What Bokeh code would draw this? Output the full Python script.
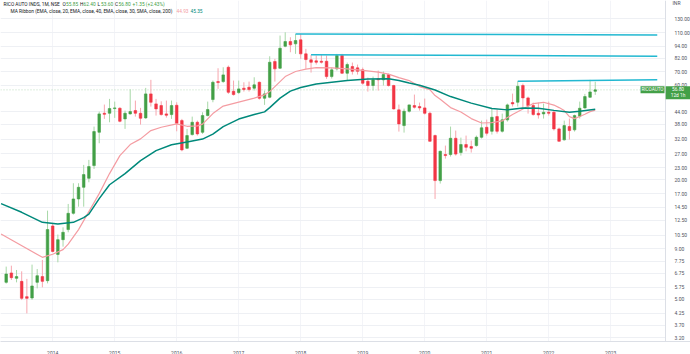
import pandas as pd
from bokeh.plotting import figure
from bokeh.models import (FixedTicker, PrintfTickFormatter, Label, Span, ColumnDataSource,
                          Range1d, BoxAnnotation)
from bokeh.embed import file_html
from bokeh.resources import INLINE

# ---------------- data ----------------
months = [p.strftime("%Y-%m") for p in pd.period_range("2013-04", "2022-10", freq="M")]

opens = [6.08, 6.78, 6.37, 6.15, 5.15, 5.07, 6.08, 6.50, 6.20, 11.70,
         8.41, 9.98, 11.22, 13.55, 16.01, 18.33, 20.35, 23.58, 34.71, 43.29,
         43.29, 45.71, 45.88, 40.56, 42.98, 44.66, 43.29, 41.03, 54.22, 48.27,
         47.33, 42.98, 42.63, 47.50, 39.76, 28.84, 33.80, 38.99, 34.71, 42.14,
         50.75, 62.55, 62.55, 73.85, 55.87, 55.04, 57.88, 58.55, 57.88, 62.04,
         51.52, 52.12, 78.90, 73.01, 94.24, 99.52, 96.91, 101.53, 86.28, 80.48,
         79.55, 79.19, 79.19, 66.28, 72.49, 84.60, 68.89, 74.44, 73.33, 71.66,
         62.76, 59.73, 64.55, 63.82, 67.84, 59.73, 45.03, 37.52, 44.31, 47.33,
         46.78, 46.08, 43.29, 33.41, 19.81, 26.80, 26.80, 32.38, 27.43, 30.10,
         29.40, 29.75, 32.76, 36.79, 35.12, 41.65, 35.12, 40.10, 49.01, 49.18,
         59.73, 51.75, 47.33, 43.29, 42.98, 43.80, 43.80, 36.11, 31.79, 37.09,
         35.71, 41.80, 46.08, 52.12, 55.85]
highs = [7.30, 7.38, 7.02, 6.91, 6.33, 7.47, 7.10, 7.89, 13.98, 12.07,
         10.59, 11.52, 15.11, 19.21, 19.21, 23.77, 25.20, 37.09, 44.14, 47.89,
         51.16, 49.58, 46.41, 44.66, 57.19, 50.16, 46.08, 58.13, 63.82, 51.16,
         49.74, 50.16, 50.16, 49.18, 40.56, 36.11, 41.65, 39.76, 43.80, 49.58,
         63.28, 73.01, 73.85, 75.32, 63.28, 63.28, 62.04, 62.55, 65.75, 62.55,
         56.34, 83.90, 81.42, 106.71, 110.88, 104.63, 108.59, 108.84, 91.44, 85.30,
         84.60, 85.30, 84.60, 73.59, 86.28, 86.28, 77.99, 77.99, 76.20, 73.59,
         65.52, 66.28, 71.07, 70.31, 68.64, 60.28, 47.89, 45.71, 47.89, 53.78,
         49.01, 51.34, 44.14, 33.80, 28.07, 29.75, 37.09, 35.41, 32.64, 33.41,
         31.53, 33.41, 39.76, 40.23, 45.71, 45.18, 43.12, 48.44, 54.38, 62.76,
         61.12, 52.54, 49.01, 49.01, 48.44, 49.58, 44.66, 36.66, 39.76, 40.70,
         42.63, 49.58, 54.22, 63.82, 62.40]
lows = [5.99, 6.25, 6.08, 4.95, 4.24, 4.96, 5.67, 5.74, 6.01, 8.61,
        7.67, 9.20, 10.87, 13.35, 14.64, 14.64, 19.43, 22.69, 30.56, 40.56,
        38.99, 41.03, 38.99, 36.11, 42.63, 41.65, 37.96, 40.56, 46.78, 42.14,
        42.14, 41.17, 40.56, 35.12, 27.84, 28.63, 33.41, 33.41, 34.08, 41.80,
        49.18, 57.46, 61.61, 54.22, 53.16, 54.22, 55.68, 55.68, 56.34, 50.75,
        47.72, 51.52, 62.55, 72.49, 93.14, 87.90, 86.28, 81.42, 72.49, 69.44,
        76.20, 77.09, 64.55, 64.77, 71.07, 68.43, 63.28, 67.84, 67.84, 60.28,
        55.68, 56.34, 56.34, 59.73, 59.04, 45.18, 35.00, 34.59, 43.63, 45.71,
        44.66, 42.63, 31.16, 16.01, 19.14, 25.58, 26.18, 26.49, 26.49, 27.84,
        27.43, 29.40, 32.27, 33.41, 33.80, 34.20, 34.59, 39.30, 46.78, 46.78,
        46.24, 43.12, 42.14, 40.70, 40.70, 42.14, 35.41, 31.16, 31.53, 31.90,
        35.00, 40.70, 45.55, 51.75, 53.60]
closes = [6.70, 6.42, 6.50, 5.05, 5.05, 5.83, 6.57, 6.15, 11.22, 8.71,
          9.98, 10.87, 13.55, 16.01, 18.33, 21.24, 23.31, 35.00, 42.98, 42.78,
          45.71, 46.08, 39.44, 43.29, 44.14, 43.29, 40.85, 54.22, 49.18, 45.55,
          42.63, 42.30, 47.33, 38.54, 28.30, 33.41, 38.99, 34.08, 42.14, 45.18,
          62.04, 61.83, 67.60, 55.23, 53.78, 57.46, 57.00, 57.00, 60.20, 51.52,
          54.22, 78.26, 72.49, 92.09, 99.52, 95.78, 100.69, 86.28, 80.76, 78.26,
          78.26, 78.26, 66.28, 71.66, 84.60, 68.89, 76.20, 70.49, 70.49, 61.34,
          59.73, 63.82, 63.82, 67.84, 59.73, 45.55, 38.27, 44.31, 47.72, 46.41,
          46.08, 43.29, 31.27, 19.81, 27.84, 26.49, 32.38, 26.96, 30.10, 29.17,
          28.84, 32.76, 36.56, 34.32, 41.32, 35.12, 40.10, 47.72, 48.27, 59.23,
          51.75, 47.33, 42.63, 42.46, 43.80, 43.29, 36.11, 31.27, 37.52, 35.41,
          42.14, 45.88, 52.54, 55.45, 56.80]

# MA ribbon (EMA 20 pink, EMA 40 teal) read at sample months
fast_months = ["2013-03", "2013-11", "2014-01", "2014-03", "2014-04", "2014-06", "2014-08",
               "2014-10", "2014-12", "2015-02", "2015-04", "2015-06", "2015-08", "2015-10",
               "2016-01", "2016-03", "2016-05", "2016-06", "2016-08", "2016-10", "2017-01",
               "2017-04", "2017-06", "2017-07", "2017-08", "2017-09", "2017-10", "2017-12",
               "2018-02", "2018-04", "2018-07", "2018-10", "2019-01", "2019-04", "2019-06",
               "2019-08", "2019-10", "2019-12", "2020-02", "2020-03", "2020-04", "2020-06",
               "2020-08", "2020-10", "2020-12", "2021-02", "2021-04", "2021-05", "2021-06",
               "2021-08", "2021-10", "2021-12", "2022-02", "2022-03", "2022-04", "2022-05",
               "2022-06", "2022-07", "2022-08", "2022-09", "2022-10"]
fast_vals = [10.65, 8.13, 8.43, 8.89, 9.47, 11.22, 13.82,
             17.03, 21.49, 26.49, 30.10, 32.16, 35.41, 36.79,
             38.27, 37.22, 37.37, 38.18, 43.13, 47.06, 49.30,
             51.64, 53.60, 55.68, 59.02, 62.55, 66.28, 70.31,
             72.32, 73.59, 73.33, 72.49, 71.24, 69.86, 68.24,
             65.52, 63.28, 59.02, 57.00, 53.16, 50.90, 46.24,
             43.95, 40.70, 38.67, 38.86, 39.60, 41.17, 42.63,
             45.46, 48.44, 49.18, 47.61, 46.24, 44.66, 41.65,
             40.70, 41.73, 42.80, 44.14, 44.93]

slow_months = ["2013-03", "2013-07", "2013-11", "2014-02", "2014-05", "2014-07", "2014-08",
               "2014-10", "2014-12", "2015-03", "2015-06", "2015-09", "2015-12", "2016-03",
               "2016-06", "2016-08", "2016-10", "2017-01", "2017-04", "2017-06", "2017-07",
               "2017-09", "2017-11", "2018-01", "2018-04", "2018-07", "2018-10", "2019-02",
               "2019-06", "2019-08", "2019-10", "2019-12", "2020-03", "2020-06", "2020-10",
               "2021-02", "2021-05", "2021-08", "2021-11", "2022-02", "2022-05", "2022-07",
               "2022-10"]
slow_vals = [15.16, 13.71, 12.20, 11.98, 12.20, 12.89, 13.42,
             16.07, 18.88, 21.49, 24.99, 28.07, 30.05, 31.00,
             32.08, 34.00, 37.09, 40.47, 42.63, 44.00, 46.24,
             51.64, 56.00, 58.33, 60.78, 62.04, 63.28, 64.42,
             64.55, 63.28, 61.45, 59.94, 56.68, 52.54, 48.70,
             45.71, 45.03, 45.98, 45.87, 44.77, 43.80, 44.26,
             45.35]

# drawn horizontal trend lines
trend_start = ["2017-12", "2018-03", "2021-07"]
trend_end = ["2023-10", "2023-10", "2023-10"]
trend_start_val = [108.6, 85.3, 62.8]
trend_end_val = [107.4, 84.0, 63.8]

year_labels = [str(y) for y in range(2014, 2024)]
price_ticks = [130, 110, 94, 82, 70, 60, 44, 38, 32, 27, 23, 20, 17, 14.5, 12.5,
               10.5, 9, 7.75, 6.75, 5.75, 5, 4.25, 3.7, 3.2]
last_price = 56.80

# ---------------- layout / style ----------------
W, FH = 690, 341
AXIS_PX = 665      # px where the price scale starts
STEP = 5.167       # px per month
X0 = 5.7           # px of first candle
Y_TOP, Y_BOT = 160.3, 3.06

GREEN = "#43a047"
RED = "#f23645"
GREEN_W = "#a8d8a8"
RED_W = "#f7a6ae"
PINK = "#f49ca2"
TEAL = "#00897b"
CYAN = "#22b8d1"
FONT = "Roboto"


def mi(s):
    y, m = map(int, s.split("-"))
    return (y - 2013) * 12 + (m - 4)


x_start = -X0 / STEP
x_axis_loc = x_start + AXIS_PX / STEP
p = figure(frame_width=W, frame_height=FH, y_axis_type="log", y_axis_location="right",
           x_range=Range1d(x_start, x_start + W / STEP), y_range=Range1d(Y_BOT, Y_TOP),
           min_border=0, min_border_bottom=13,
           toolbar_location=None, output_backend="svg")
p.outline_line_color = None
p.background_fill_color = "white"

# grid
p.ygrid.ticker = FixedTicker(ticks=price_ticks)
p.ygrid.grid_line_color = "#eef0f4"
year_ticks = [mi(f"{y}-01") for y in range(2014, 2024)]
p.xgrid.ticker = FixedTicker(ticks=year_ticks)
p.xgrid.grid_line_color = "#f3f4f8"

# last price line (under the price-scale cover)
p.add_layout(Span(location=last_price, dimension="width", line_color=GREEN,
                  line_alpha=0.35, line_width=1, line_dash="1 2", level="underlay"))
# white price-scale area
p.add_layout(BoxAnnotation(left=x_axis_loc, fill_color="white", fill_alpha=1,
                           line_color=None, level="underlay"))

# axes
ya = p.yaxis[0]
ya.fixed_location = x_axis_loc
ya.ticker = FixedTicker(ticks=price_ticks)
ya.formatter = PrintfTickFormatter(format="%.2f")
ya.major_label_text_font_size = "5px"
ya.major_label_text_font = FONT
ya.major_label_text_color = "#50535e"
ya.major_tick_line_color = None
ya.minor_tick_line_color = None
ya.axis_line_color = "#dcdfe6"
ya.major_label_standoff = 3

xa = p.xaxis[0]
xa.ticker = FixedTicker(ticks=year_ticks)
xa.major_label_overrides = {t: l for t, l in zip(year_ticks, year_labels)}
xa.major_label_text_font_size = "5px"
xa.major_label_text_font = FONT
xa.major_label_text_color = "#50535e"
xa.major_tick_line_color = None
xa.minor_tick_line_color = None
xa.axis_line_color = "#dcdfe6"
xa.major_label_standoff = 3

# candles
xs = list(range(len(months)))
up = [c >= o for o, c in zip(opens, closes)]
src = ColumnDataSource(dict(
    x=xs, high=highs, low=lows,
    top=[max(o, c) for o, c in zip(opens, closes)],
    bottom=[min(o, c) for o, c in zip(opens, closes)],
    color=[GREEN if u else RED for u in up],
    wick=[GREEN_W if u else RED_W for u in up],
))
p.segment(x0="x", y0="high", x1="x", y1="low", line_color="wick", line_width=1, source=src)
p.vbar(x="x", top="top", bottom="bottom", width=0.5, fill_color="color",
       line_color="color", line_width=0.6, source=src)

# ribbon
p.line([mi(m) for m in fast_months], fast_vals, line_color=PINK, line_width=1.2)
p.line([mi(m) for m in slow_months], slow_vals, line_color=TEAL, line_width=1.5)

# trend lines
p.segment(x0=[mi(m) for m in trend_start], y0=trend_start_val,
          x1=[mi(m) for m in trend_end], y1=trend_end_val, line_color=CYAN, line_width=1.5)


# legend texts
def lab(text, x, y, color, size="4.8px", **kw):
    p.add_layout(Label(x=x, y=y, x_units="screen", y_units="screen", text=text,
                       text_font=FONT, text_font_size=size, text_color=color,
                       text_baseline="middle", **kw))


L1 = FH - 3.5
L2 = FH - 10.5
lab("RICO AUTO INDS, 1M, NSE", 3, L1, "#131722")
for k, v, xk in [("O", "55.85", 62), ("H", "62.40", 79.5), ("L", "53.60", 97), ("C", "56.80", 114.5)]:
    lab(k, xk, L1, "#131722")
    lab(v, xk + 3.6, L1, GREEN)
lab("+1.35 (+2.43%)", 132, L1, GREEN)
lab("MA Ribbon (EMA, close, 20, EMA, close, 40, EMA, close, 30, SMA, close, 200)", 10, L2, "#131722")
lab("44.93", 176, L2, PINK)
lab("45.35", 190, L2, TEAL)

# price scale extras
lab("INR", AXIS_PX + 7, FH - 2.5, "#50535e", size="5px")
p.add_layout(Label(x=AXIS_PX - 1, y=last_price, x_units="screen", y_units="data", text="RICOAUTO",
                   text_font=FONT, text_font_size="4.6px", text_color="white",
                   text_align="right", text_baseline="middle", background_fill_color=GREEN,
                   padding=1))
p.add_layout(Label(x=AXIS_PX + 12.5, y=last_price, x_units="screen", y_units="data", y_offset=-3,
                   text="56.80\n12d 1h", text_font=FONT, text_font_size="4.8px",
                   text_color="white", text_align="center", text_baseline="middle",
                   background_fill_color=GREEN, padding=(5, 1)))

open("out.html", "w").write(file_html(p, INLINE))
